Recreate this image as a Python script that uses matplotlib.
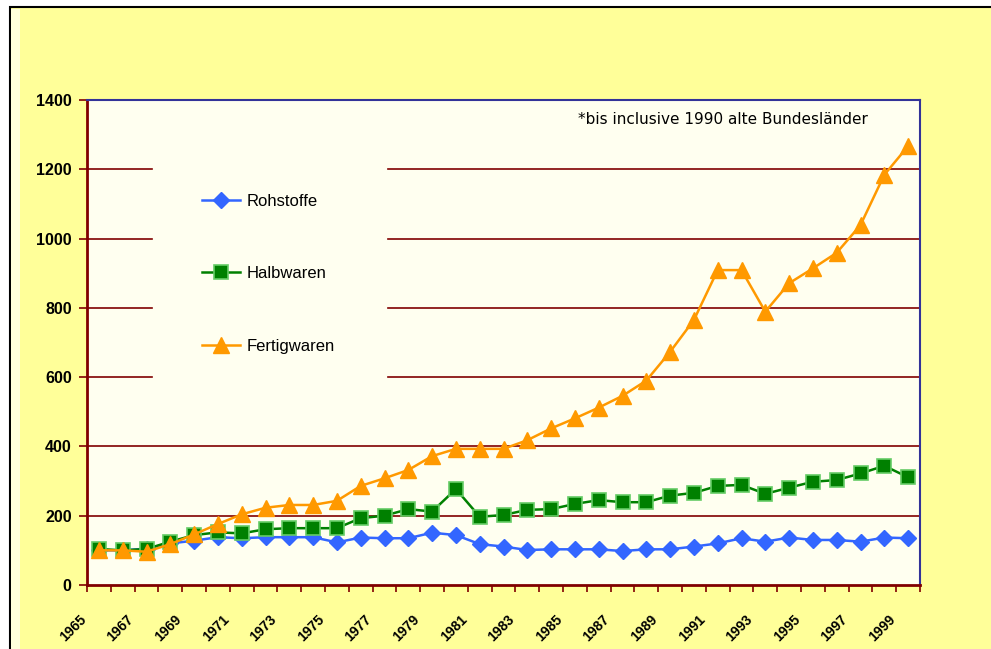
import numpy as np
import matplotlib
matplotlib.use('Agg')
import matplotlib.pyplot as plt
from matplotlib.patches import Rectangle
import matplotlib.transforms as mtrans

years = list(range(1965, 2000))
year_labels = [str(y) for y in years[::2]]

rohstoffe = [100, 100, 105, 120, 128, 138, 135, 138, 138, 138, 123, 137, 135, 135, 151, 144,
             118, 111, 101, 103, 103, 103, 98, 103, 103, 111, 120, 135, 125, 137, 130, 130,
             125, 137, 135]
halbwaren = [104, 100, 104, 125, 144, 152, 149, 161, 164, 164, 164, 193, 200, 219, 212, 277,
             197, 202, 217, 219, 234, 245, 239, 239, 258, 266, 286, 289, 263, 281, 298, 303,
             322, 344, 311]
fertigwaren = [100, 100, 96, 118, 146, 176, 204, 223, 231, 231, 243, 286, 308, 332, 372, 393,
               393, 393, 418, 452, 481, 512, 546, 590, 673, 765, 909, 909, 789, 871, 914, 959,
               1039, 1184, 1267]

note = '*bis inclusive 1990 alte Bundesländer'

plt.rcParams['font.family'] = ['Liberation Sans', 'DejaVu Sans']

fig = plt.figure(figsize=(9.91, 6.49), dpi=100, facecolor='white')
# outer chart area (runs off the right and bottom edges)
fig.patches.append(Rectangle((10 / 991, -0.1), 1.2, 0.1 + (649 - 7) / 649, transform=fig.transFigure,
                             facecolor='#FFFF99', edgecolor='black', linewidth=1.5, zorder=-10))
fig.patches.append(Rectangle((11 / 991, -0.1), 9 / 991, 0.1 + (649 - 9) / 649, transform=fig.transFigure,
                             facecolor='#FFFFDD', edgecolor='none', zorder=-9))

ax = fig.add_axes([87 / 991, 64 / 649, 833 / 991, 485 / 649])
ax.set_zorder(1)
ax.set_facecolor('#FFFFF0')

x = np.arange(len(years))

# gridlines, broken behind the legend
for v in [200, 400]:
    ax.axhline(v, color='#800000', lw=1.2, zorder=1)
for v in [600, 800, 1000, 1200]:
    ax.axhline(v, xmin=0, xmax=0.078, color='#800000', lw=1.2, zorder=1)
    ax.axhline(v, xmin=0.361, xmax=1, color='#800000', lw=1.2, zorder=1)

ax.plot(x, rohstoffe, color='#3366FF', lw=1.8, marker='D', ms=8.5,
        mfc='#3366FF', mec='#3366FF', label='Rohstoffe', zorder=3)
ax.plot(x, halbwaren, color='#008000', lw=1.8, marker='s', ms=10,
        mfc='#008000', mec='#66CC66', mew=1.2, label='Halbwaren', zorder=4)
ax.plot(x, fertigwaren, color='#FF9900', lw=1.8, marker='^', ms=12,
        mfc='#FF9900', mec='#FF9900', label='Fertigwaren', zorder=5)

ax.set_xlim(-0.5, len(years) - 0.5)
ax.set_ylim(0, 1400)

ax.set_yticks(range(0, 1401, 200))
ax.set_yticklabels([str(v) for v in range(0, 1401, 200)], fontsize=11.5, fontweight='bold')
ax.tick_params(axis='y', direction='out', length=6, width=1.2, color='#800000', pad=5)

ax.set_xticks(np.arange(-0.5, len(years), 1))
ax.set_xticklabels([])
ax.tick_params(axis='x', which='major', direction='out', length=5, width=1.2, color='#800000')
ax.set_xticks(x[::2], minor=True)
ax.set_xticklabels(year_labels, minor=True, rotation=45, ha='right', va='top',
                   fontsize=10, fontweight='bold')
ax.tick_params(axis='x', which='minor', length=0, pad=20)
off = mtrans.ScaledTranslation(-10 / 100, 0, fig.dpi_scale_trans)
for lab in ax.get_xticklabels(minor=True):
    lab.set_transform(lab.get_transform() + off)

ax.spines['left'].set_color('#800000')
ax.spines['bottom'].set_color('#800000')
ax.spines['left'].set_linewidth(2)
ax.spines['bottom'].set_linewidth(2)
ax.spines['top'].set_color('#333399')
ax.spines['right'].set_color('#333399')
ax.spines['top'].set_linewidth(1.5)
ax.spines['right'].set_linewidth(1.5)

leg = ax.legend(loc='upper left', bbox_to_anchor=(0.138, 0.807), frameon=False,
                fontsize=12, handlelength=2.3, handletextpad=0.4, labelspacing=3.45,
                borderpad=0, borderaxespad=0)

ax.text(0.764, 0.975, note, transform=ax.transAxes, ha='center', va='top', fontsize=11,
        family='DejaVu Sans')

plt.savefig('out.png', dpi=100, facecolor=fig.get_facecolor())
